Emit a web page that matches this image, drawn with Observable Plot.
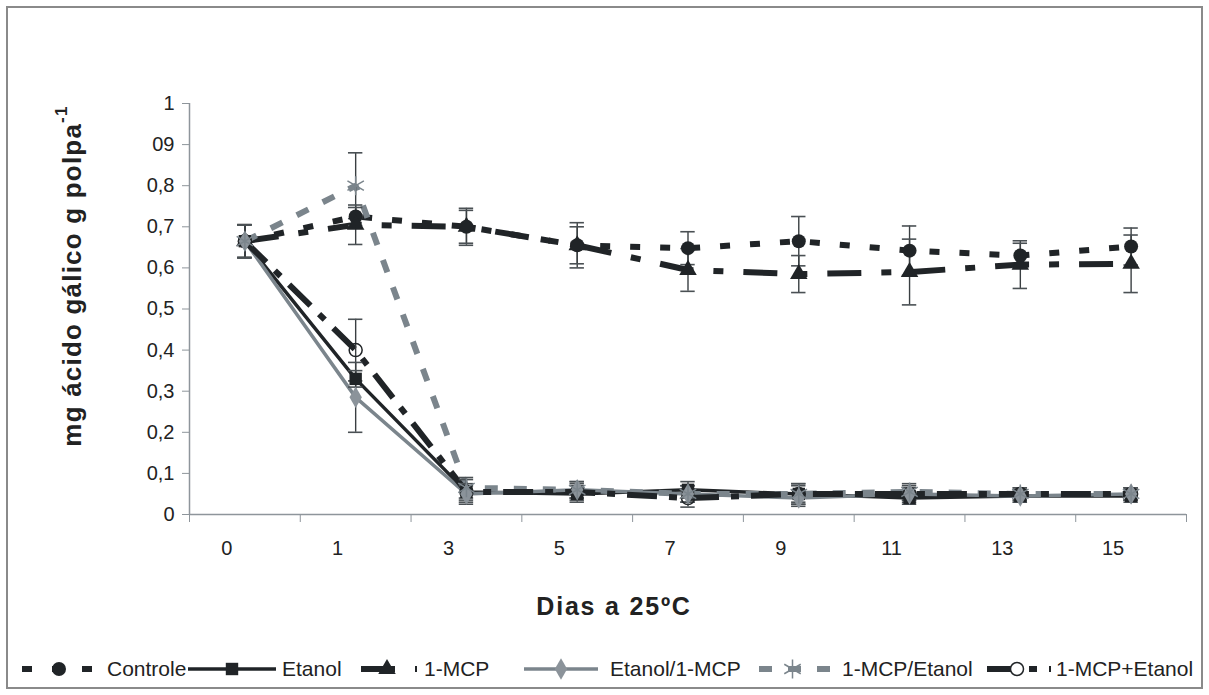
<!DOCTYPE html>
<html>
<head>
<meta charset="utf-8">
<script src="https://cdn.jsdelivr.net/npm/d3@7"></script>
<script src="https://cdn.jsdelivr.net/npm/@observablehq/plot@0.6"></script>
<style>
  body { margin: 0; background: #fff; font-family: "Liberation Sans", Arial, sans-serif; }
  #wrap { position: relative; width: 1209px; height: 695px; overflow: hidden; }
  #frame { position: absolute; left: 6px; top: 6px; width: 1197px; height: 683px; border: 2px solid #8a8a8a; box-sizing: border-box; }
  #chart { position: absolute; left: 0; top: 0; }
  #ytitle { position: absolute; left: 72px; top: 276px; transform: translate(-50%, -50%) rotate(-90deg); white-space: nowrap; font-weight: bold; font-size: 26px; color: #222; letter-spacing: 1.2px; }
  #ytitle sup { font-size: 17px; position: relative; top: -4px; }
  #xtitle { position: absolute; left: 614px; top: 592px; transform: translateX(-50%); white-space: nowrap; font-weight: bold; font-size: 25px; color: #222; letter-spacing: 1.8px; }
  #legend { position: absolute; left: 0; top: 656px; width: 1209px; height: 26px; }
  .item { position: absolute; top: 0; height: 26px; display: flex; align-items: center; }
  .item span { font-size: 21px; color: #222; white-space: nowrap; }
</style>
</head>
<body>
<div id="wrap">
  <div id="frame"></div>
  <div id="chart"></div>
  <div id="ytitle">mg ácido gálico g polpa<sup>-1</sup></div>
  <div id="xtitle">Dias a 25ºC</div>
  <div id="legend"></div>
</div>
<script>
// ---------- data ----------
const days = ["0", "1", "3", "5", "7", "9", "11", "13", "15"];
const seriesNames = ["Controle", "Etanol", "1-MCP", "Etanol/1-MCP", "1-MCP/Etanol", "1-MCP+Etanol"];

const controle        = [0.665, 0.725, 0.700, 0.655, 0.648, 0.665, 0.642, 0.630, 0.652];
const etanol          = [0.665, 0.330, 0.055, 0.050, 0.060, 0.050, 0.040, 0.045, 0.045];
const mcp             = [0.665, 0.705, 0.700, 0.655, 0.595, 0.585, 0.590, 0.608, 0.610];
const etanolMcp       = [0.665, 0.285, 0.050, 0.060, 0.050, 0.040, 0.050, 0.045, 0.050];
const mcpEtanol       = [0.665, 0.800, 0.065, 0.060, 0.050, 0.050, 0.055, 0.050, 0.050];
const mcpMaisEtanol   = [0.665, 0.400, 0.055, 0.055, 0.040, 0.050, 0.050, 0.050, 0.050];

const controleErr      = [0.040, 0.022, 0.045, 0.055, 0.040, 0.060, 0.060, 0.030, 0.045];
const etanolErr        = [0.040, 0.020, 0.020, 0.020, 0.020, 0.020, 0.015, 0.015, 0.015];
const mcpErr           = [0.040, 0.048, 0.040, 0.045, 0.052, 0.045, 0.080, 0.058, 0.070];
const etanolMcpErr     = [0.040, 0.085, 0.020, 0.020, 0.020, 0.020, 0.015, 0.015, 0.015];
const mcpEtanolErr     = [0.040, 0.080, 0.025, 0.020, 0.020, 0.025, 0.020, 0.015, 0.015];
const mcpMaisEtanolErr = [0.040, 0.075, 0.030, 0.020, 0.022, 0.025, 0.020, 0.015, 0.015];

const yTickValues = [0, 0.1, 0.2, 0.3, 0.4, 0.5, 0.6, 0.7, 0.8, 0.9, 1];
const yTickLabels = ["0", "0,1", "0,2", "0,3", "0,4", "0,5", "0,6", "0,7", "0,8", "09", "1"];

// ---------- styles ----------
const BLACK = "#202427", GRAY = "#7b858c", AXIS = "#8e959b";
const styles = {
  "Controle":     {values: controle,      err: controleErr,      stroke: BLACK, width: 6,   dash: "10,20",        symbol: "circle",   fill: BLACK, mstroke: "none", r: 7,   left: 18,  sw: 82, gap: 7},
  "Etanol":       {values: etanol,        err: etanolErr,        stroke: BLACK, width: 3.5, dash: null,           symbol: "square",   fill: BLACK, mstroke: "none", r: 7,   left: 188, sw: 88, gap: 6},
  "1-MCP":        {values: mcp,           err: mcpErr,           stroke: BLACK, width: 6,   dash: "34,20,10,20",  symbol: "triangle", fill: BLACK, mstroke: "none", r: 6.5, left: 357, sw: 60, gap: 7},
  "Etanol/1-MCP": {values: etanolMcp,     err: etanolMcpErr,     stroke: GRAY,  width: 3.5, dash: null,           symbol: "diamond",  fill: "#8b939a", mstroke: "none", r: 6.5, left: 524, sw: 74, gap: 12},
  "1-MCP/Etanol": {values: mcpEtanol,     err: mcpEtanolErr,     stroke: GRAY,  width: 6,   dash: "13,16",        symbol: "asterisk", fill: "none", mstroke: GRAY, r: 9,   left: 755, sw: 75, gap: 12},
  "1-MCP+Etanol": {values: mcpMaisEtanol, err: mcpMaisEtanolErr, stroke: BLACK, width: 6,   dash: "30,12,8,12",   symbol: "circle",   fill: "none", mstroke: BLACK, r: 6.5, left: 983, sw: 68, gap: 5}
};
// marker drawing order (later on top)
const markerOrder = ["1-MCP+Etanol", "Controle", "1-MCP", "Etanol", "Etanol/1-MCP", "1-MCP/Etanol"];

const rows = [];
seriesNames.forEach(s => {
  styles[s].values.forEach((v, i) => rows.push({series: s, day: days[i], pos: i + 0.5, value: v, err: styles[s].err[i]}));
});
const bySeries = s => rows.filter(r => r.series === s);
const capHalf = 0.065;

const marks = [];
// axes
marks.push(Plot.axisY({ticks: yTickValues, tickFormat: (d, i) => yTickLabels[i], tickSize: 7, tickPadding: 8, stroke: AXIS, fill: "#222", fontSize: 20, label: null}));
marks.push(Plot.axisX({ticks: d3.range(days.length + 1), tickFormat: () => "", tickSize: 8, stroke: AXIS, label: null}));
marks.push(Plot.axisX({ticks: days.map((d, i) => i + 0.5), tickFormat: (d, i) => days[i], tickSize: 0, tickPadding: 26, dx: -18, fill: "#222", fontSize: 20, label: null}));
marks.push(Plot.ruleX([0], {stroke: AXIS, strokeWidth: 1.5}));
marks.push(Plot.ruleY([0], {stroke: AXIS, strokeWidth: 1.5}));
// lines
seriesNames.forEach(s => {
  const st = styles[s];
  marks.push(Plot.line(bySeries(s), {x: "pos", y: "value", stroke: st.stroke, strokeWidth: st.width, strokeDasharray: st.dash, strokeLinecap: "butt", strokeLinejoin: "miter"}));
});
// error bars
marks.push(Plot.ruleX(rows, {x: "pos", y1: d => d.value - d.err, y2: d => d.value + d.err, stroke: "#3a3f42", strokeWidth: 1.4}));
marks.push(Plot.ruleY(rows, {y: d => d.value + d.err, x1: d => d.pos - capHalf, x2: d => d.pos + capHalf, stroke: "#4a5054", strokeWidth: 1.6}));
marks.push(Plot.ruleY(rows, {y: d => d.value - d.err, x1: d => d.pos - capHalf, x2: d => d.pos + capHalf, stroke: "#4a5054", strokeWidth: 1.6}));
// markers
markerOrder.forEach(s => {
  const st = styles[s];
  marks.push(Plot.dot(bySeries(s), {x: "pos", y: "value", symbol: st.symbol, r: st.r, fill: st.fill, stroke: st.mstroke, strokeWidth: 1.5}));
});

const chart = Plot.plot({
  width: 1209,
  height: 640,
  marginTop: 103,
  marginBottom: 126,
  marginLeft: 189,
  marginRight: 23,
  x: {type: "linear", domain: [0, days.length], axis: null},
  y: {domain: [0, 1], axis: null},
  style: {fontFamily: "'Liberation Sans', Arial, sans-serif", fontSize: "20px", color: "#222", background: "transparent"},
  marks
});
document.getElementById("chart").appendChild(chart);

// ---------- legend ----------
const symMap = {circle: d3.symbolCircle, square: d3.symbolSquare, triangle: d3.symbolTriangle, diamond: d3.symbolDiamond, asterisk: d3.symbolAsterisk};
const legend = d3.select("#legend");
seriesNames.forEach(s => {
  const st = styles[s];
  const item = legend.append("div").attr("class", "item").style("left", st.left + "px");
  const svg = item.append("svg").attr("width", st.sw).attr("height", 26);
  svg.append("line").attr("x1", 0).attr("x2", st.sw).attr("y1", 13).attr("y2", 13)
    .attr("stroke", st.stroke).attr("stroke-width", st.width)
    .attr("stroke-dasharray", st.dash).attr("stroke-dashoffset", st.dash ? -4 : 0);
  svg.append("path").attr("transform", `translate(${st.sw / 2},13)`)
    .attr("d", d3.symbol(symMap[st.symbol], Math.PI * st.r * st.r)())
    .attr("fill", st.fill === "none" && st.symbol === "circle" ? "white" : st.fill)
    .attr("stroke", st.mstroke).attr("stroke-width", 1.5);
  item.append("span").style("margin-left", st.gap + "px").text(s);
});
</script>
</body>
</html>
